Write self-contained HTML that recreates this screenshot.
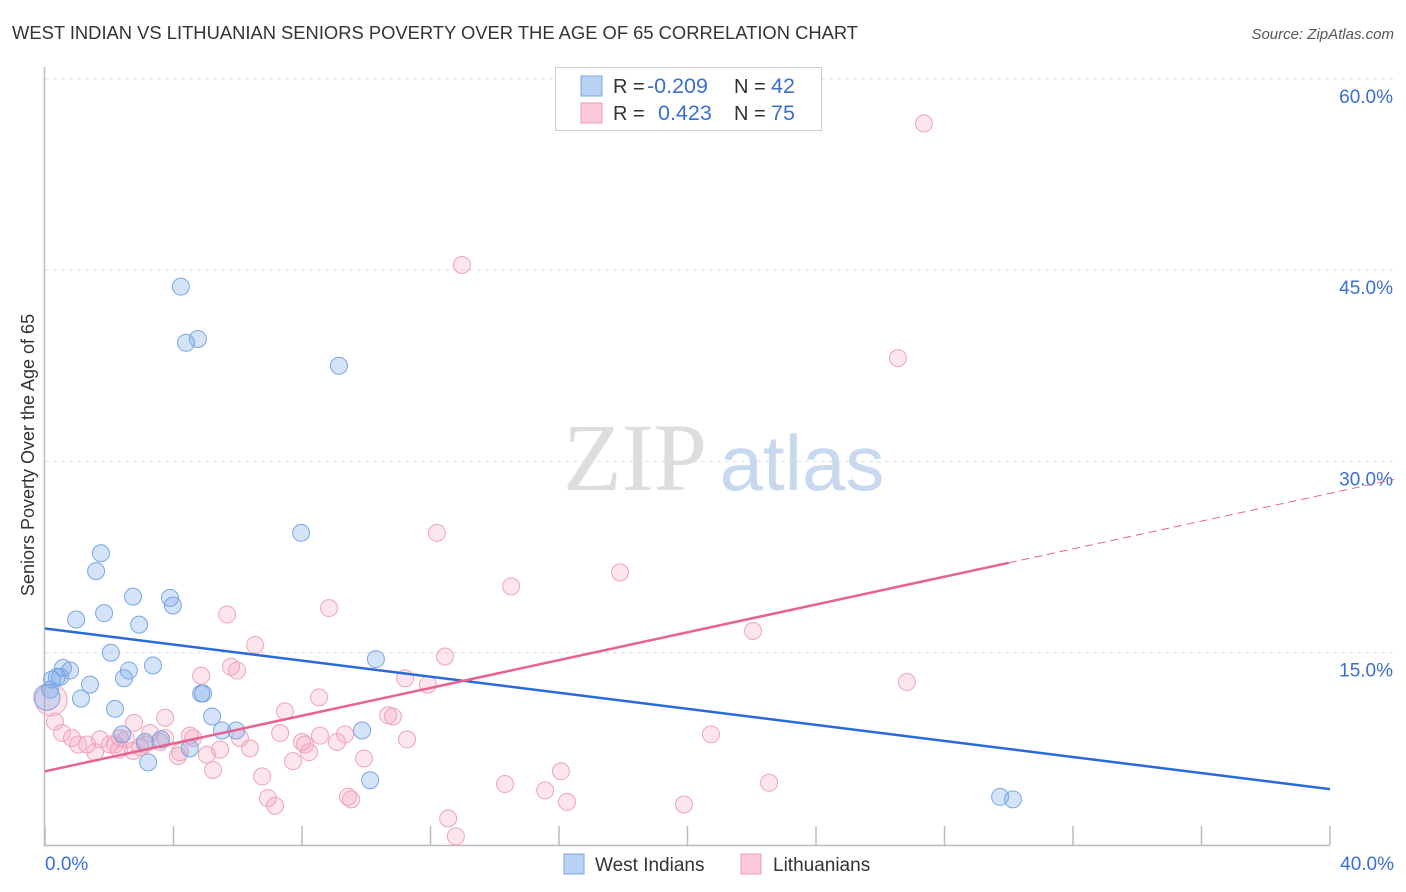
<!DOCTYPE html>
<html><head><meta charset="utf-8"><style>
body{margin:0;background:#fff;font-family:"Liberation Sans",sans-serif;}
svg{display:block}
</style></head><body>
<svg id="chart" width="1406" height="892">
<text x="12" y="39" font-size="18" fill="#333" textLength="846" lengthAdjust="spacingAndGlyphs">WEST INDIAN VS LITHUANIAN SENIORS POVERTY OVER THE AGE OF 65 CORRELATION CHART</text>
<text x="1394" y="39" font-size="15" fill="#555" font-style="italic" text-anchor="end">Source: ZipAtlas.com</text>
<text x="34" y="455" font-size="18" fill="#333" text-anchor="middle" transform="rotate(-90 34 455)">Seniors Poverty Over the Age of 65</text>
<g><text x="635" y="490" font-size="96" fill="#ddd" font-family="Liberation Serif,serif" text-anchor="middle">ZIP</text><text x="802" y="490" font-size="78" fill="#c8d8ef" text-anchor="middle">atlas</text></g>
<g id="grid"></g><g id="axes"></g><g id="pts"></g><g id="lines"></g>
<g>
<rect x="555.5" y="67.5" width="266" height="63" fill="#fff" stroke="#ccc"/>
<rect x="581" y="76" width="21" height="20" fill="#b9d2f3" stroke="#7aa7e4"/>
<rect x="581" y="103" width="21" height="20" fill="#fbc9d8" stroke="#f09ab6"/>
<text x="613" y="93" font-size="20" fill="#333">R = </text><text x="647" y="93" font-size="21.5" fill="#3a6fd0">-0.209</text>
<text x="734" y="93" font-size="20" fill="#333">N = </text><text x="771" y="93" font-size="21.5" fill="#3a6fd0">42</text>
<text x="613" y="120" font-size="20" fill="#333">R = </text><text x="658" y="120" font-size="21.5" fill="#3a6fd0">0.423</text>
<text x="734" y="120" font-size="20" fill="#333">N = </text><text x="771" y="120" font-size="21.5" fill="#3a6fd0">75</text>
</g>
<g>
<rect x="564" y="854" width="20" height="20" fill="#b9d2f3" stroke="#7aa7e4"/>
<text x="595" y="871" font-size="19" fill="#333">West Indians</text>
<rect x="741" y="854" width="20" height="20" fill="#fbc9d8" stroke="#f09ab6"/>
<text x="773" y="871" font-size="19" fill="#333">Lithuanians</text>
</g>
</svg>
<script>
const blueX=[4.23,4.39,4.76,9.15,7.97,1.74,1.59,2.74,3.89,3.98,0.97,1.84,2.93,2.05,0.56,0.78,0.37,1.40,2.46,2.61,3.36,1.12,4.86,4.92,2.18,5.20,5.51,5.95,10.30,9.87,2.40,3.11,3.61,4.51,3.21,10.12,29.73,30.13,0.16,0.22,0.47,0.06];
const blueY=[43.7,39.3,39.6,37.5,24.4,22.8,21.4,19.4,19.3,18.7,17.6,18.1,17.2,15.0,13.8,13.6,13.1,12.5,13.0,13.6,14.0,11.4,11.8,11.8,10.6,10.0,8.9,8.9,14.5,8.9,8.6,8.0,8.2,7.5,6.4,5.0,3.7,3.5,12.1,12.9,13.1,11.5];
const pinkX=[27.36,12.98,26.55,12.20,17.90,14.51,8.84,5.67,22.04,6.54,12.45,4.86,5.79,5.98,11.21,11.92,26.83,8.53,10.68,10.83,3.74,2.77,7.47,7.32,20.73,11.27,9.34,8.56,9.09,8.00,8.09,8.22,6.07,6.38,4.51,4.61,3.74,3.27,2.52,1.71,2.18,1.31,1.03,0.84,0.53,0.31,5.45,5.04,4.20,4.14,2.96,2.30,9.93,7.72,6.76,5.23,16.06,14.32,15.57,22.54,6.94,7.16,9.43,9.53,16.25,19.89,12.55,12.79,0.19,2.33,1.56,3.58,2.74,3.11,2.02];
const pinkY=[56.5,45.4,38.1,24.4,21.3,20.2,18.5,18.0,16.7,15.6,14.7,13.2,13.9,13.6,13.0,12.5,12.7,11.5,10.1,10.0,9.9,9.5,10.4,8.7,8.6,8.2,8.6,8.5,8.0,8.0,7.8,7.2,8.3,7.5,8.5,8.3,8.3,8.7,8.2,8.2,7.8,7.8,7.8,8.3,8.7,9.6,7.4,7.0,7.2,6.9,7.6,7.4,6.7,6.5,5.3,5.8,5.7,4.7,4.2,4.8,3.6,3.0,3.7,3.5,3.3,3.1,2.0,0.6,11.3,8.3,7.2,8.0,7.3,7.8,7.8];
const yTicks=[15,30,45,60];
const yTickLabels=["15.0%","30.0%","45.0%","60.0%"];
const xTicks=[0,4,8,12,16,20,24,28,32,36,40];
const blueTrend=[16.9,4.3];
const pinkTrend=[5.7,0.545];
const NS="http://www.w3.org/2000/svg";
const X=v=>45+v/40*1285, Y=v=>844-v/15*191.3;
function mk(t,a,p){const e=document.createElementNS(NS,t);for(const k in a)e.setAttribute(k,a[k]);p.appendChild(e);return e;}
const grid=document.getElementById('grid'),axes=document.getElementById('axes'),pts=document.getElementById('pts'),lines=document.getElementById('lines');
yTicks.forEach((t,i)=>{
 const l=mk('line',{x1:45,x2:1394,y1:Y(t),y2:Y(t),stroke:'#ddd','stroke-dasharray':'4 4'},grid);
 
 
 const tx=mk('text',{x:1393,y:Y(t)+24,'font-size':19,fill:'#3a6fd0','text-anchor':'end'},axes);
 tx.textContent=yTickLabels[i];
 
 
});
const ax=mk('path',{d:'M44.5 67V845.5H1330',stroke:'#bbb',fill:'none','stroke-width':1.5},axes);


xTicks.forEach(t=>{const l=mk('line',{x1:X(t),x2:X(t),y1:826,y2:845,stroke:'#bbb','stroke-width':1.5},axes);
 
 });
const xl0=mk('text',{x:45,y:870,'font-size':19,fill:'#3a6fd0'},axes);xl0.textContent='0.0%';


const xl1=mk('text',{x:1394,y:870,'font-size':19,fill:'#3a6fd0','text-anchor':'end'},axes);xl1.textContent='40.0%';


function dots(xs,ys,fill,stroke,name,bigIdx,bigR){xs.forEach((x,i)=>{const big=i===bigIdx;
 const c=mk('circle',{cx:X(x),cy:Y(ys[i]),r:big?bigR:8.5,fill:fill,stroke:stroke,'stroke-width':1},pts);
 
 });}
dots(pinkX,pinkY,'rgba(244,160,188,0.28)','#efa3bd','lithuanian-point',68,16);
dots(blueX,blueY,'rgba(120,168,232,0.32)','#78a6e4','west-indian-point',41,13);
const bl=mk('line',{x1:X(0),y1:Y(blueTrend[0]),x2:X(40),y2:Y(blueTrend[1]),stroke:'#2a6ad8','stroke-width':2.5},lines);


const pl=mk('line',{x1:X(0),y1:Y(pinkTrend[0]),x2:X(30),y2:Y(pinkTrend[0]+pinkTrend[1]*30),stroke:'#e8628f','stroke-width':2.5},lines);


const pd=mk('line',{x1:X(30),y1:Y(pinkTrend[0]+pinkTrend[1]*30),x2:X(42),y2:Y(pinkTrend[0]+pinkTrend[1]*42),stroke:'#e8628f','stroke-width':1,'stroke-dasharray':'8 5'},lines);


</script>
</body></html>
